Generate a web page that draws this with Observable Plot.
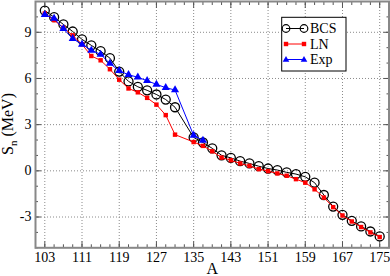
<!DOCTYPE html>
<html>
<head>
<meta charset="utf-8">
<script src="https://cdn.jsdelivr.net/npm/d3@7"></script>
<script src="https://cdn.jsdelivr.net/npm/@observablehq/plot@0.6"></script>
<style>
  html, body { margin: 0; padding: 0; background: white; }
  #wrap { position: relative; width: 390px; height: 276px; }
  #legend { position: absolute; left: 0; top: 0; }
</style>
</head>
<body>
<div id="wrap"></div>
<script>
// ---- data ----
const A_BCS = [103,105,107,109,111,113,115,117,119,121,123,125,127,129,131,135,137,139,141,143,145,147,149,151,153,155,157,159,161,163,165,167,169,171,173,175];
const BCS = [10.41,9.98,9.51,9.05,8.54,8.15,7.77,7.32,6.45,5.81,5.46,5.23,4.96,4.63,4.13,2.17,1.84,1.46,1.01,0.84,0.63,0.48,0.30,0.15,0.05,-0.10,-0.21,-0.39,-0.77,-1.57,-2.32,-2.86,-3.25,-3.61,-3.94,-4.26];
const LN  = [10.22,9.79,9.29,8.80,8.22,7.46,7.18,6.60,5.92,5.35,5.10,4.74,4.30,3.62,2.35,1.87,1.62,1.27,0.86,0.69,0.48,0.32,0.11,-0.02,-0.17,-0.32,-0.54,-0.77,-1.20,-1.74,-2.36,-2.90,-3.29,-3.65,-4.00,-4.30];
const A_EXP = [103,105,107,109,111,113,115,117,119,121,123,125,127,129,131,135,137];
const EXP = [10.15,9.90,9.23,8.58,8.22,7.83,7.57,6.97,6.50,6.24,6.08,5.85,5.62,5.40,5.25,2.30,1.98];
const xMajor = [103,111,119,127,135,143,151,159,167,175];
const xMinor = d3.range(101, 178, 2);
const yMajor = [-3,0,3,6,9];
const yMinor = d3.range(-5, 12, 1);
const seriesNames = ["BCS","LN","Exp"];

const bcsData = A_BCS.map((a,i)=>({A:a, S:BCS[i]}));
const lnData  = A_BCS.map((a,i)=>({A:a, S:LN[i]}));
const expData = A_EXP.map((a,i)=>({A:a, S:EXP[i]}));

const font = "'Liberation Serif', 'Times New Roman', serif";
const tickColor = "#555";
const gridStyle = {stroke:"#8a8a8a", strokeOpacity:1, strokeDasharray:"1,2"};

const chart = Plot.plot({
  width: 390, height: 276,
  marginLeft: 35, marginRight: 1.5, marginTop: 1, marginBottom: 28.7,
  style: {fontFamily: font, fontSize: "14px", background: "white", color: "black", overflow: "visible"},
  x: {domain: [101, 177]},
  y: {domain: [-5, 11]},
  marks: [
    Plot.gridX({ticks: xMajor, ...gridStyle}),
    Plot.gridY({ticks: yMajor, ...gridStyle}),
    // inward ticks
    Plot.axisX({ticks: xMinor, anchor:"bottom", tickSize:-3, text:null, label:null, stroke:tickColor}),
    Plot.axisX({ticks: xMinor, anchor:"top", tickSize:-3, text:null, label:null, stroke:tickColor}),
    Plot.axisX({ticks: xMajor, anchor:"bottom", tickSize:-6, text:null, label:null, stroke:tickColor}),
    Plot.axisX({ticks: xMajor, anchor:"top", tickSize:-6, text:null, label:null, stroke:tickColor}),
    Plot.axisY({ticks: yMinor, anchor:"left", tickSize:-3, text:null, label:null, stroke:tickColor}),
    Plot.axisY({ticks: yMinor, anchor:"right", tickSize:-3, text:null, label:null, stroke:tickColor}),
    Plot.axisY({ticks: yMajor, anchor:"left", tickSize:-6, text:null, label:null, stroke:tickColor}),
    Plot.axisY({ticks: yMajor, anchor:"right", tickSize:-6, text:null, label:null, stroke:tickColor}),
    // tick labels
    Plot.axisX({ticks: xMajor, anchor:"bottom", tickSize:0, tickPadding:4, label:null, fontSize:14, tickFormat: d=>String(d)}),
    Plot.axisY({ticks: yMajor, anchor:"left", tickSize:0, tickPadding:4, label:null, fontSize:14, tickFormat: d=>String(d)}),
    Plot.frame({stroke:"#888", strokeWidth:2}),
    // series
    Plot.line(bcsData, {x:"A", y:"S", stroke:"black", strokeWidth:1}),
    Plot.dot(bcsData, {x:"A", y:"S", r:4.5, stroke:"black", strokeWidth:1.3, fill:"none"}),
    Plot.line(lnData, {x:"A", y:"S", stroke:"red", strokeWidth:1}),
    Plot.dot(lnData, {x:"A", y:"S", symbol:"square", r:2.5, fill:"red", stroke:"none"}),
    Plot.line(expData, {x:"A", y:"S", stroke:"blue", strokeWidth:1}),
    Plot.dot(expData, {x:"A", y:"S", symbol:"triangle", r:3, fill:"blue", stroke:"none"}),
    // x axis title
    Plot.text(["A"], {frameAnchor:"bottom", lineAnchor:"bottom", dy:26, fontSize:16, fill:"black"})
  ]
});

document.getElementById("wrap").appendChild(chart);

// y axis title with subscript
const svg = d3.select(chart);
const yt = svg.append("text")
  .attr("transform", "translate(12.5,124) rotate(-90)")
  .attr("text-anchor", "middle")
  .attr("font-family", font)
  .attr("font-size", 16)
  .attr("fill", "black");
yt.append("tspan").text("S");
yt.append("tspan").attr("font-size", 11).attr("dy", 4).text("n");
yt.append("tspan").attr("dy", -4).text("\u00a0(MeV)");

// legend
const lg = d3.select("#wrap").append("svg").attr("id","legend").attr("width",390).attr("height",276);
lg.append("rect").attr("x",281.7).attr("y",17.3).attr("width",64.3).attr("height",53.7)
  .attr("fill","white").attr("stroke","black").attr("stroke-width",1);
const rows = [
  {name: seriesNames[0], color:"black", kind:"circle", y:28.5},
  {name: seriesNames[1], color:"red", kind:"square", y:44},
  {name: seriesNames[2], color:"blue", kind:"triangle", y:59.5}
];
rows.forEach(r => {
  const g = lg.append("g");
  g.append("line").attr("x1",286).attr("x2",304).attr("y1",r.y).attr("y2",r.y).attr("stroke",r.color).attr("stroke-width",1);
  [286,304].forEach(cx => {
    if (r.kind === "circle") g.append("circle").attr("cx",cx).attr("cy",r.y).attr("r",3.8).attr("fill","none").attr("stroke","black").attr("stroke-width",1.2);
    if (r.kind === "square") g.append("rect").attr("x",cx-2.2).attr("y",r.y-2.2).attr("width",4.4).attr("height",4.4).attr("fill","red");
    if (r.kind === "triangle") g.append("path").attr("d",`M${cx},${r.y-3.6}L${cx+3.3},${r.y+2.2}L${cx-3.3},${r.y+2.2}Z`).attr("fill","blue");
  });
  g.append("text").attr("x",310).attr("y",r.y).attr("dy","0.35em")
    .attr("font-family",font).attr("font-size",14).attr("fill","black").text(r.name);
});
</script>
</body>
</html>
